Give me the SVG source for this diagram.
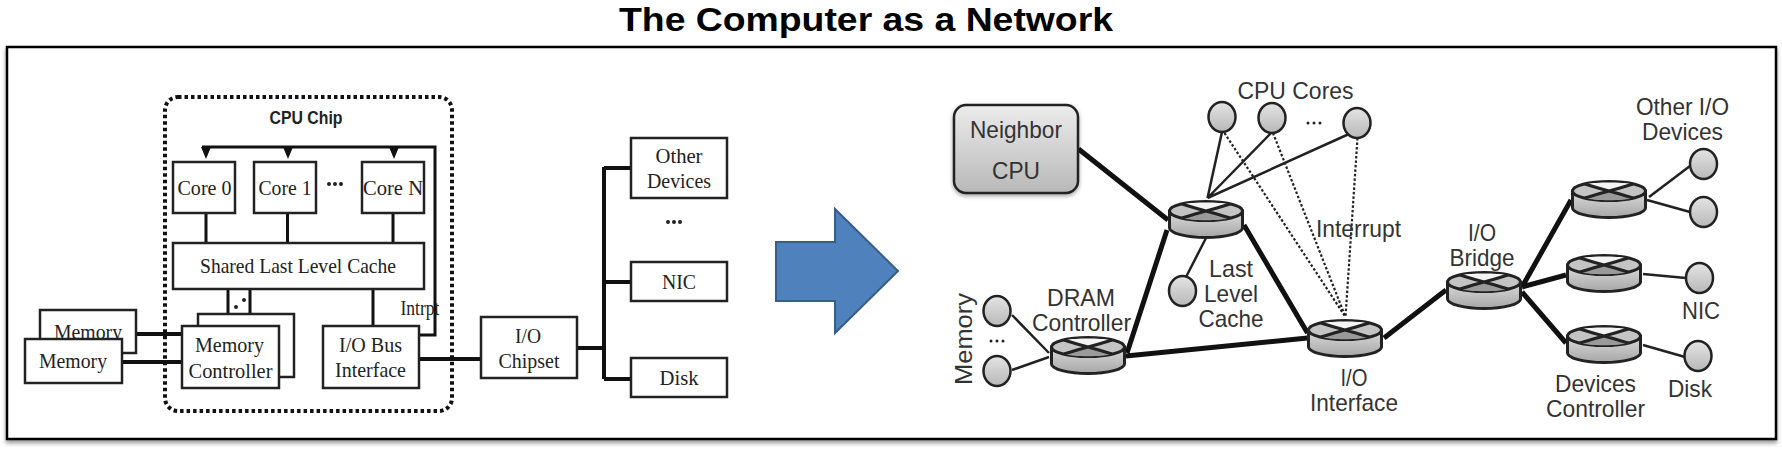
<svg xmlns="http://www.w3.org/2000/svg" width="1782" height="449" viewBox="0 0 1782 449">
<style>
.box{fill:#fff;stroke:#222;stroke-width:2.500}
.s{font-family:"Liberation Serif","Times New Roman",serif;font-size:22px;fill:#222;text-anchor:middle}
.a{font-family:"Liberation Sans",Arial,sans-serif;font-size:24px;fill:#333;text-anchor:middle}
.w{fill:none;stroke:#111;stroke-width:3}
.t{fill:none;stroke:#111;stroke-width:4}
.n{fill:none;stroke:#222;stroke-width:2.500}
.k{fill:none;stroke:#111;stroke-width:5}
.d{fill:none;stroke:#222;stroke-width:2.200;stroke-dasharray:2.5 2}
.o{fill:url(#cg);stroke:#222;stroke-width:2.500}
.dot{fill:#222}
</style>
<defs>
<linearGradient id="cg" x1="0" y1="0" x2="0" y2="1"><stop offset="0" stop-color="#e4e4e4"/><stop offset="1" stop-color="#b8b8b8"/></linearGradient>
<linearGradient id="ng" x1="0" y1="0" x2="0" y2="1"><stop offset="0" stop-color="#ececec"/><stop offset="1" stop-color="#b8b8b8"/></linearGradient>
<linearGradient id="rg" x1="0" y1="0" x2="0" y2="1"><stop offset="0" stop-color="#dcdcdc"/><stop offset="1" stop-color="#a6a6a6"/></linearGradient>
<filter id="sh" x="-2%" y="-5%" width="104%" height="112%"><feDropShadow dx="0" dy="3" stdDeviation="2" flood-color="#000" flood-opacity=".4"/></filter>
<filter id="sh2" x="-20%" y="-20%" width="140%" height="150%"><feDropShadow dx="0" dy="2" stdDeviation="2" flood-color="#000" flood-opacity=".35"/></filter>
<g id="router">
<path d="M1.500 10V27C1.500 32 18 36.500 38 36.500S74.500 32 74.500 27V10Z" fill="url(#rg)" stroke="#222" stroke-width="3"/>
<ellipse cx="38" cy="10" rx="36.500" ry="9.500" fill="#c4c4c4" stroke="#222" stroke-width="3"/>
<path d="M16 3C24 1 52 1 60 3L38 10Z" fill="#f4f4f4"/>
<path d="M14 17C22 20 54 20 62 17L38 10Z" fill="#9a9a9a"/>
<path d="M14 3Q30 8 38 10T62 17M62 3Q46 8 38 10T14 17" stroke="#222" stroke-width="3" fill="none"/>
</g>
<ellipse id="cir" rx="13.500" ry="15" class="o"/>
<path id="tri" d="M-5 0H5L0 12Z" fill="#111"/>
</defs>

<text x="866" y="31" font-family="Liberation Sans,Arial,sans-serif" font-size="34" font-weight="700" text-anchor="middle" textLength="494" lengthAdjust="spacingAndGlyphs" fill="#000">The Computer as a Network</text>
<rect id="frame" x="7" y="47" width="1769" height="392" fill="#fff" stroke="#000" stroke-width="2.500" filter="url(#sh)"/>

<g id="connectors">
<path class="w" d="M202 147H435V335H419"/>
<use href="#tri" x="206" y="147"/><use href="#tri" x="288" y="147"/><use href="#tri" x="394" y="147"/>
<path class="w" d="M206 213V243M287.500 213V243M393 213V243M228 289V325M250 289V325M373 289V325"/>
<path class="t" d="M136 334H182M122 362H182M419 359H481M577 348H604M604 167V379M604 168H631M604 282H631M604 379H631"/>
<path class="k" d="M1078.500 149L1168 220M1167 230L1127 353M1244 225L1307.500 333M1126 356L1307.500 338M1384 338L1446 290M1522 287L1571 200M1522 287L1566 275M1522 292L1566 343"/>
<path class="n" d="M1207.500 198L1222 132M1207.500 198L1272 132M1207.500 198L1349 134M1206 238L1186 277M1012 315L1049 353M1012 370L1049 357M1649 197L1690 166M1647 200L1690 212M1643 274L1686 278M1643 345L1685 357"/>
<path class="d" d="M1224.500 133L1345.500 317M1273 133L1345.500 317M1357.500 138L1345.500 317"/>
</g>

<g id="cpu-chip"><rect x="165" y="97" width="287" height="314" rx="13" fill="none" stroke="#111" stroke-width="4" stroke-dasharray="3.500 3"/>
<text x="306" y="124" font-size="19" font-weight="700" font-family="Liberation Sans,Arial,sans-serif" fill="#222" text-anchor="middle" textLength="73" lengthAdjust="spacingAndGlyphs">CPU Chip</text></g>
<g id="core0"><rect class="box" x="173" y="162" width="62" height="51"/><text class="s" x="204.500" y="195" textLength="54" lengthAdjust="spacingAndGlyphs">Core 0</text></g>
<g id="core1"><rect class="box" x="254" y="162" width="62" height="51"/><text class="s" x="285" y="195" textLength="53" lengthAdjust="spacingAndGlyphs">Core 1</text></g>
<g id="dots1"><circle class="dot" cx="329" cy="184" r="2"/><circle class="dot" cx="335" cy="184" r="2"/><circle class="dot" cx="341" cy="184" r="2"/></g>
<g id="coren"><rect class="box" x="362" y="162" width="62" height="51"/><text class="s" x="393" y="195" textLength="60" lengthAdjust="spacingAndGlyphs">Core N</text></g>
<g id="cache"><rect class="box" x="173" y="243" width="251" height="46"/><text class="s" x="298" y="273" textLength="196" lengthAdjust="spacingAndGlyphs">Shared Last Level Cache</text></g>
<g id="dots2"><circle class="dot" cx="231" cy="315" r="2"/><circle class="dot" cx="236" cy="307" r="2"/><circle class="dot" cx="244" cy="300" r="2"/></g>
<g id="intrpt"><text class="s" x="420" y="315" textLength="39" lengthAdjust="spacingAndGlyphs">Intrpt</text></g>
<g id="memctrl-back"><rect class="box" x="198" y="314" width="96" height="63"/></g>
<g id="memctrl"><rect class="box" x="182" y="326" width="97" height="62"/><text class="s" x="229.500" y="352" textLength="69" lengthAdjust="spacingAndGlyphs">Memory</text><text class="s" x="230.500" y="378" textLength="84" lengthAdjust="spacingAndGlyphs">Controller</text></g>
<g id="iobus"><rect class="box" x="323" y="326" width="96" height="62"/><text class="s" x="370.500" y="352" textLength="63" lengthAdjust="spacingAndGlyphs">I/O Bus</text><text class="s" x="370.500" y="377" textLength="71" lengthAdjust="spacingAndGlyphs">Interface</text></g>
<g id="memory-back"><rect class="box" x="40" y="310" width="96" height="43"/><text class="s" x="88" y="339" textLength="68" lengthAdjust="spacingAndGlyphs">Memory</text></g>
<g id="memory-front"><rect class="box" x="25" y="339" width="97" height="44"/><text class="s" x="73" y="368" textLength="68" lengthAdjust="spacingAndGlyphs">Memory</text></g>
<g id="chipset"><rect class="box" x="481" y="317" width="96" height="61"/><text class="s" x="528" y="343" textLength="26" lengthAdjust="spacingAndGlyphs">I/O</text><text class="s" x="529" y="368" textLength="61" lengthAdjust="spacingAndGlyphs">Chipset</text></g>
<g id="other"><rect class="box" x="631" y="138" width="96" height="60"/><text class="s" x="679" y="163" textLength="47" lengthAdjust="spacingAndGlyphs">Other</text><text class="s" x="679" y="188" textLength="64" lengthAdjust="spacingAndGlyphs">Devices</text></g>
<g id="dots3"><circle class="dot" cx="668" cy="222" r="2"/><circle class="dot" cx="674" cy="222" r="2"/><circle class="dot" cx="680" cy="222" r="2"/></g>
<g id="nic"><rect class="box" x="631" y="262" width="96" height="39"/><text class="s" x="679" y="289" textLength="34" lengthAdjust="spacingAndGlyphs">NIC</text></g>
<g id="disk"><rect class="box" x="631" y="358" width="96" height="39"/><text class="s" x="679" y="385" textLength="39" lengthAdjust="spacingAndGlyphs">Disk</text></g>

<g id="arrow"><path d="M776 242H835V209L898 271L835 333V301H776Z" fill="#4f81bd" stroke="#385d8a" stroke-width="2"/></g>

<g id="neighbor"><rect x="954" y="105" width="124" height="88" rx="12" fill="url(#ng)" stroke="#222" stroke-width="2.500" filter="url(#sh2)"/><text class="a" x="1016" y="138" textLength="92" lengthAdjust="spacingAndGlyphs">Neighbor</text><text class="a" x="1016" y="179" textLength="48" lengthAdjust="spacingAndGlyphs">CPU</text></g>
<g id="r-llc"><use href="#router" x="1168" y="201"/></g>
<g id="r-dram"><use href="#router" x="1050" y="337"/></g>
<g id="r-io"><use href="#router" x="1307" y="320"/></g>
<g id="r-bridge"><use href="#router" x="1446" y="272"/></g>
<g id="r-top"><use href="#router" x="1571" y="181"/></g>
<g id="r-mid"><use href="#router" x="1566" y="255"/></g>
<g id="r-bot"><use href="#router" x="1566" y="326"/></g>
<g id="core-a"><use href="#cir" x="1222" y="117"/></g>
<g id="core-b"><use href="#cir" x="1272" y="118"/></g>
<g id="core-c"><use href="#cir" x="1357" y="123"/></g>
<g id="llc-c"><use href="#cir" x="1182.500" y="291"/></g>
<g id="mem-a"><use href="#cir" x="997" y="311"/></g>
<g id="mem-b"><use href="#cir" x="997" y="371"/></g>
<g id="oth-a"><use href="#cir" x="1703.500" y="164"/></g>
<g id="oth-b"><use href="#cir" x="1703.500" y="212"/></g>
<g id="nic-c"><use href="#cir" x="1699.500" y="278"/></g>
<g id="disk-c"><use href="#cir" x="1698" y="356"/></g>

<g id="labels">
<text class="a" x="1295.500" y="99" textLength="116" lengthAdjust="spacingAndGlyphs">CPU Cores</text>
<g><circle class="dot" cx="1308" cy="123" r="1.500"/><circle class="dot" cx="1314" cy="123" r="1.500"/><circle class="dot" cx="1320" cy="123" r="1.500"/></g>
<text class="a" x="1358.500" y="237" textLength="85" lengthAdjust="spacingAndGlyphs">Interrupt</text>
<text class="a" x="1231" y="277" textLength="44" lengthAdjust="spacingAndGlyphs">Last</text><text class="a" x="1231" y="302" textLength="54" lengthAdjust="spacingAndGlyphs">Level</text><text class="a" x="1231" y="327" textLength="65" lengthAdjust="spacingAndGlyphs">Cache</text>
<text class="a" x="1081" y="306" textLength="68" lengthAdjust="spacingAndGlyphs">DRAM</text><text class="a" x="1081.500" y="331" textLength="99" lengthAdjust="spacingAndGlyphs">Controller</text>
<text class="a" transform="translate(972 339) rotate(-90)" textLength="92" lengthAdjust="spacingAndGlyphs">Memory</text>
<g><circle class="dot" cx="991" cy="341" r="1.500"/><circle class="dot" cx="997" cy="341" r="1.500"/><circle class="dot" cx="1003" cy="341" r="1.500"/></g>
<text class="a" x="1354" y="386" textLength="27" lengthAdjust="spacingAndGlyphs">I/O</text><text class="a" x="1354" y="411" textLength="88" lengthAdjust="spacingAndGlyphs">Interface</text>
<text class="a" x="1482" y="241" textLength="28" lengthAdjust="spacingAndGlyphs">I/O</text><text class="a" x="1482" y="266" textLength="65" lengthAdjust="spacingAndGlyphs">Bridge</text>
<text class="a" x="1682.500" y="115" textLength="93" lengthAdjust="spacingAndGlyphs">Other I/O</text><text class="a" x="1682.500" y="140" textLength="81" lengthAdjust="spacingAndGlyphs">Devices</text>
<text class="a" x="1701" y="319" textLength="38" lengthAdjust="spacingAndGlyphs">NIC</text>
<text class="a" x="1690" y="397" textLength="44" lengthAdjust="spacingAndGlyphs">Disk</text>
<text class="a" x="1595.500" y="392" textLength="81" lengthAdjust="spacingAndGlyphs">Devices</text><text class="a" x="1595.500" y="417" textLength="99" lengthAdjust="spacingAndGlyphs">Controller</text>
</g>
</svg>
